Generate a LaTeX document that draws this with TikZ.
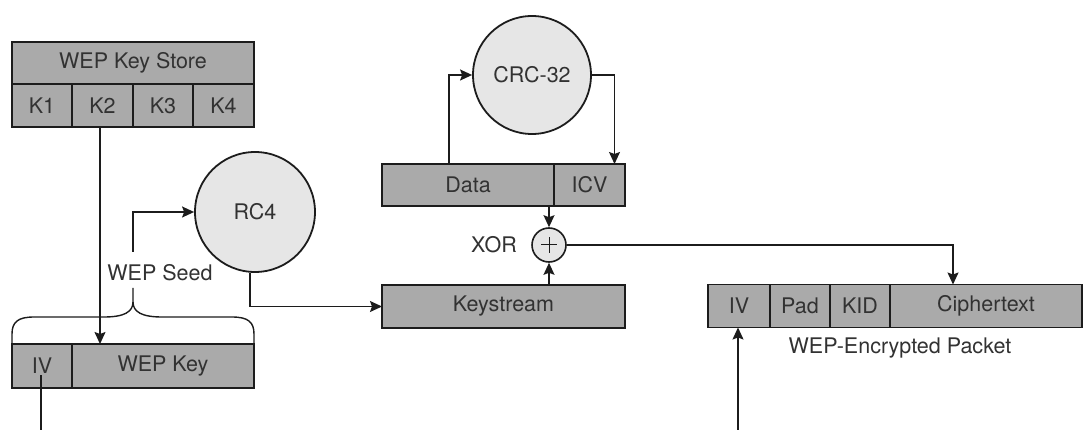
\documentclass[tikz,border=0pt]{standalone}
\usepackage{fontspec}
\setmainfont{TeX Gyre Heros}
\usetikzlibrary{arrows.meta,calc}
\definecolor{fieldgray}{RGB}{170,170,170}
\definecolor{opgray}{RGB}{230,230,230}
\definecolor{inkgray}{RGB}{50,50,50}
\definecolor{edgegray}{RGB}{28,28,28}
\newcommand{\labelfont}{\fontsize{21.5}{26}\selectfont}
\tikzset{
  field/.style={draw=edgegray,fill=fieldgray,line width=1.8pt,inner sep=0pt,outer sep=0pt,
    text=inkgray,font=\labelfont,minimum height=43pt},
  op/.style={circle,draw=edgegray,fill=opgray,line width=1.8pt,inner sep=0pt,
    text=inkgray,font=\labelfont},
  lbl/.style={text=inkgray,font=\labelfont,inner sep=0pt},
  conn/.style={draw=edgegray,line width=1.4pt},
  arr/.style={conn,-{Stealth[length=12pt,width=11pt,inset=2pt]}}
}
\begin{document}
\begin{tikzpicture}[x=1pt,y=-1pt]
\useasboundingbox (0,0) rectangle (1084,430);

% key store
\node[field,minimum width=242pt,minimum height=42pt] (store) at (133,63) {WEP Key Store};
\node[field,minimum width=60pt] (k1) at (42,105.5) {K1};
\node[field,minimum width=61pt] (k2) at (102.5,105.5) {K2};
\node[field,minimum width=60pt] (k3) at (163,105.5) {K3};
\node[field,minimum width=61pt] (k4) at (223.5,105.5) {K4};

% seed: IV + WEP key
\node[field,minimum width=60pt,minimum height=44pt] (siv) at (42,366) {IV};
\node[field,minimum width=182pt,minimum height=44pt] (skey) at (163,366) {WEP Key};

% brace over the seed
\coordinate (tip) at (133,288);
\draw[conn] (siv.north west) -- (12,334) .. controls (12,322) and (18,317) .. (34,317)
  -- (104,317) .. controls (124,317) and (133,312) .. (133,302) -- (tip);
\draw[conn] (skey.north east) -- (254,334) .. controls (254,322) and (248,317) .. (232,317)
  -- (162,317) .. controls (142,317) and (133,312) .. (133,302);
\node[lbl] (seed) at (160,273) {WEP Seed};
\coordinate (seedtop) at (133,252);

% RC4
\node[op,minimum size=120pt] (rc4) at (255,212) {RC4};

% CRC and data
\node[op,minimum size=118pt] (crc) at (532,75) {CRC-32};
\node[field,minimum width=172pt,minimum height=42pt] (data) at (468,185) {Data};
\node[field,minimum width=71pt,minimum height=42pt] (icv) at (589.5,185) {ICV};

% XOR and keystream
\node[op,minimum size=34pt,line width=1.6pt] (xor) at (549,245) {};
\draw[conn,line width=1pt] ([xshift=-8pt]xor.center) -- ([xshift=8pt]xor.center)
  ([yshift=-8pt]xor.center) -- ([yshift=8pt]xor.center);
\node[lbl,anchor=east] (xorlbl) at (517,245) {XOR};
\node[field,minimum width=243pt] (ks) at (503.5,306.5) {Keystream};

% encrypted packet
\node[field,minimum width=62pt] (piv) at (739,306) {IV};
\node[field,minimum width=60pt] (pad) at (800,306) {Pad};
\node[field,minimum width=60pt] (kid) at (860,306) {KID};
\node[field,minimum width=192pt] (ct) at (986,306) {Ciphertext};
\node[lbl] (pktlbl) at (900,348) {WEP-Encrypted Packet};

% loose ends at the bottom edge
\coordinate (ivout) at (41,430);
\coordinate (ivin) at (738,430);

% connectors
\draw[arr] (k2.south -| 100,0) -- (skey.north -| 100,0);
\draw[conn] ([xshift=-1pt,yshift=-9pt]siv.center) -- (ivout);
\draw[arr] (seedtop) |- (rc4.west);
\draw[arr] ([xshift=-5pt]rc4.south) |- (ks.west);
\draw[arr] ([xshift=-19pt]data.north) |- (crc.west);
\draw[arr] (crc.east) -| ([xshift=25pt]icv.north);
\draw[arr] (xor |- data.south) -- (xor.north);
\draw[arr] (xor |- ks.north) -- (xor.south);
\draw[arr] (xor.east) -| ([xshift=-33pt]ct.north);
\draw[arr] (ivin) -- (piv.south -| ivin);
\end{tikzpicture}
\end{document}
